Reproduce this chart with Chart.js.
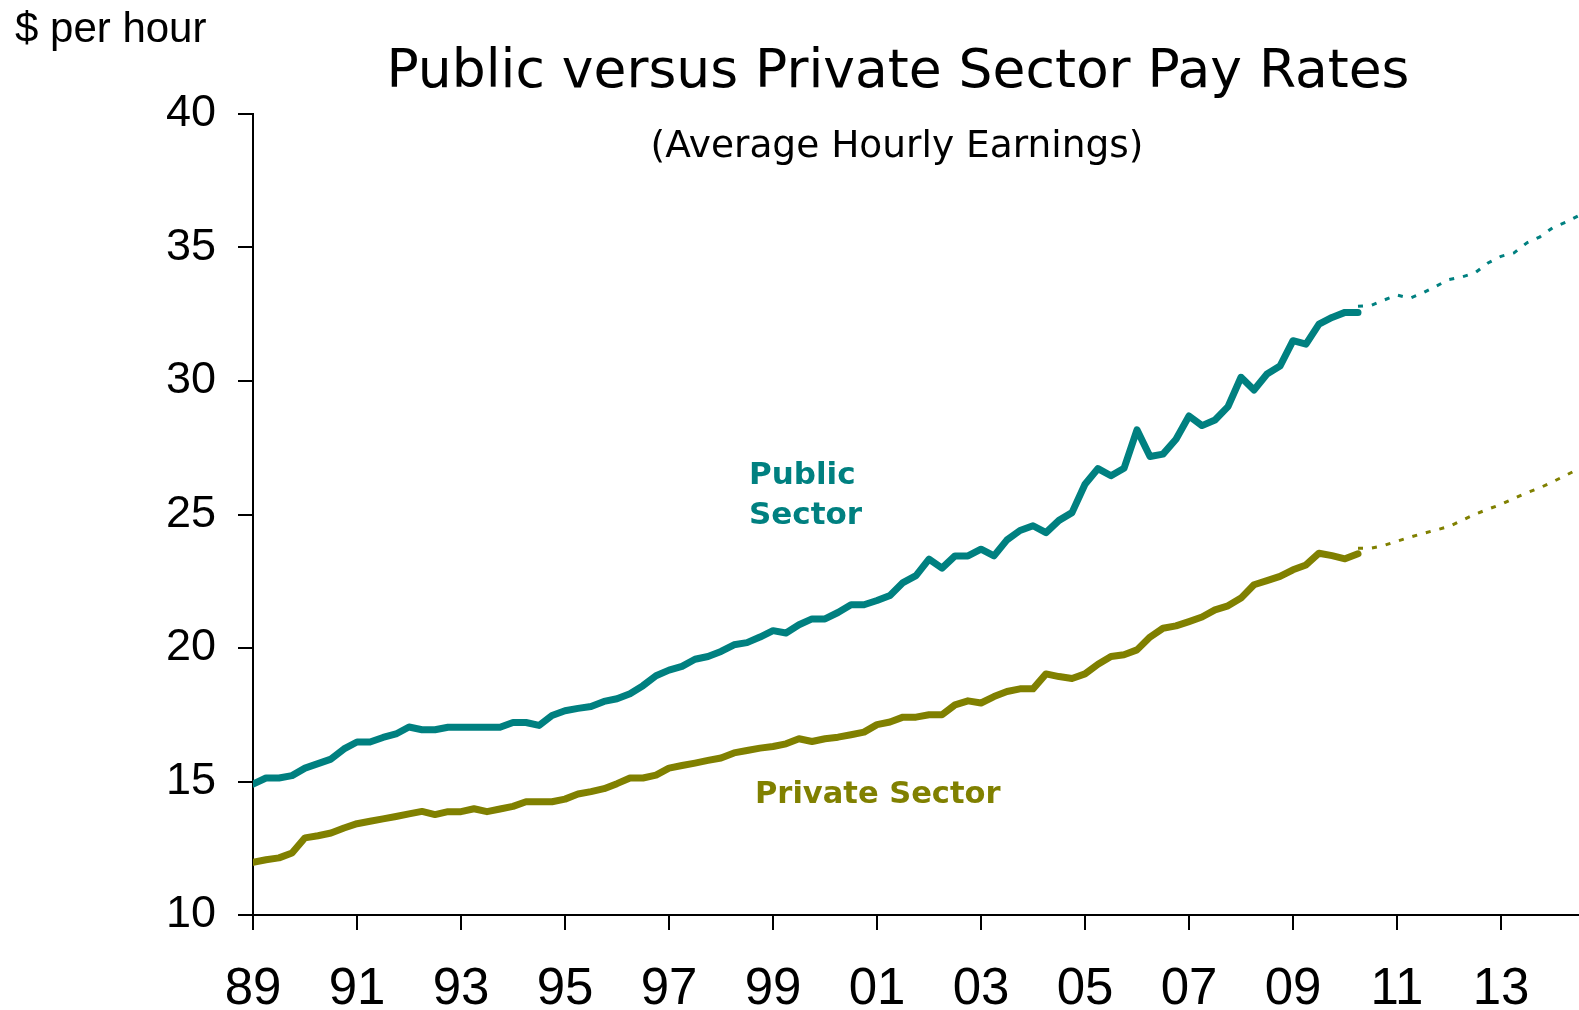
<!DOCTYPE html>
<html><head><meta charset="utf-8">
<script src="https://cdn.jsdelivr.net/npm/chart.js@4.4.1/dist/chart.umd.min.js"></script>
<style>html,body{margin:0;padding:0;background:#fff;overflow:hidden}#wrap{position:relative;width:1579px;height:1010px}</style>
</head><body><div id="wrap"><canvas id="c" width="1579" height="1010"></canvas></div>
<script>
// Quarterly observations, first value = 1989 Q1
const startYear = 1989;
const publicSector = [
  14.9, 15.13, 15.13, 15.22,
  15.5, 15.67, 15.84, 16.22,
  16.48, 16.48, 16.65, 16.78,
  17.04, 16.94, 16.94, 17.03,
  17.03, 17.03, 17.03, 17.03,
  17.21, 17.21, 17.1, 17.47,
  17.65, 17.74, 17.81, 18.0,
  18.1, 18.29, 18.59, 18.96,
  19.17, 19.31, 19.58, 19.68,
  19.87, 20.12, 20.2, 20.41,
  20.65, 20.56, 20.87, 21.09,
  21.09, 21.33, 21.62, 21.62,
  21.78, 21.97, 22.45, 22.71,
  23.33, 22.99, 23.45, 23.45,
  23.7, 23.45, 24.05, 24.4,
  24.58, 24.32, 24.78, 25.07,
  26.13, 26.72, 26.45, 26.73,
  28.17, 27.17, 27.26, 27.82,
  28.69, 28.33, 28.54, 29.04,
  30.14, 29.66, 30.26, 30.56,
  31.51, 31.38, 32.13, 32.38,
  32.57, 32.57
];
const privateSector = [
  11.97, 12.07, 12.14, 12.32,
  12.89, 12.97, 13.07, 13.26,
  13.42, 13.51, 13.6, 13.69,
  13.79, 13.88, 13.76, 13.87,
  13.87, 13.98, 13.87, 13.97,
  14.07, 14.24, 14.24, 14.24,
  14.34, 14.53, 14.62, 14.73,
  14.92, 15.13, 15.13, 15.24,
  15.5, 15.6, 15.69, 15.79,
  15.88, 16.07, 16.16, 16.25,
  16.31, 16.41, 16.6, 16.5,
  16.6, 16.66, 16.75, 16.85,
  17.13, 17.23, 17.41, 17.41,
  17.5, 17.5, 17.87, 18.02,
  17.94, 18.18, 18.37, 18.47,
  18.47, 19.03, 18.93, 18.86,
  19.03, 19.39, 19.68, 19.75,
  19.93, 20.41, 20.74, 20.83,
  20.99, 21.16, 21.43, 21.58,
  21.87, 22.37, 22.52, 22.68,
  22.93, 23.11, 23.55, 23.46,
  23.34, 23.53
];
// Projections, quarterly from 2010 Q2
const projectionStart = 2010.25;
const publicProjection = [32.8, 32.83, 33.03, 33.22, 33.1, 33.3, 33.55, 33.8, 33.9, 34.05, 34.42, 34.67, 34.8, 35.18, 35.4, 35.75, 35.95, 36.2];
const privateProjection = [23.74, 23.74, 23.84, 24.0, 24.15, 24.29, 24.42, 24.55, 24.78, 25.01, 25.2, 25.38, 25.6, 25.82, 26.0, 26.23, 26.47, 26.72];

const xTickValues = [1989, 1991, 1993, 1995, 1997, 1999, 2001, 2003, 2005, 2007, 2009, 2011, 2013];
const xTickLabels = ['89', '91', '93', '95', '97', '99', '01', '03', '05', '07', '09', '11', '13'];
const yTickValues = [10, 15, 20, 25, 30, 35, 40];

const titleText = 'Public versus Private Sector Pay Rates';
const subtitleText = '(Average Hourly Earnings)';
const unitText = '$ per hour';
const publicLabel = ['Public', 'Sector'];
const privateLabel = 'Private Sector';

const TEAL = '#008080';
const OLIVE = '#808000';

const toPoints = (arr, start) => arr.map((v, i) => ({ x: start + i / 4, y: v }));

const textPlugin = {
  id: 'texts',
  afterDraw(chart) {
    const ctx = chart.ctx;
    ctx.save();
    ctx.textBaseline = 'alphabetic';
    ctx.fillStyle = '#000';
    ctx.textAlign = 'center';
    ctx.font = '53.5px "DejaVu Sans"';
    ctx.fillText(titleText, 898, 87);
    ctx.font = '37.5px "DejaVu Sans"';
    ctx.fillText(subtitleText, 897, 157);
    ctx.textAlign = 'left';
    ctx.font = '42px "Liberation Sans", Arial';
    ctx.fillText(unitText, 15, 42);
    ctx.font = 'bold 31px "DejaVu Sans"';
    ctx.fillStyle = TEAL;
    ctx.fillText(publicLabel[0], 749, 484);
    ctx.fillText(publicLabel[1], 749, 524);
    ctx.font = 'bold 30.5px "DejaVu Sans"';
    ctx.fillStyle = OLIVE;
    ctx.fillText(privateLabel, 755, 803);
    ctx.restore();
  }
};

new Chart(document.getElementById('c'), {
  type: 'line',
  data: {
    datasets: [
      { label: 'Public Sector', data: toPoints(publicSector, startYear), borderColor: TEAL, borderWidth: 7, pointRadius: 0, tension: 0, borderJoinStyle: 'round', borderCapStyle: 'round' },
      { label: 'Private Sector', data: toPoints(privateSector, startYear), borderColor: OLIVE, borderWidth: 7, pointRadius: 0, tension: 0, borderJoinStyle: 'round', borderCapStyle: 'round' },
      { label: 'Public projection', data: toPoints(publicProjection, projectionStart), borderColor: TEAL, borderWidth: 3, borderDash: [5, 9], pointRadius: 0, tension: 0 },
      { label: 'Private projection', data: toPoints(privateProjection, projectionStart), borderColor: OLIVE, borderWidth: 3, borderDash: [5, 9], pointRadius: 0, tension: 0 }
    ]
  },
  options: {
    responsive: false,
    devicePixelRatio: 1,
    animation: false,
    layout: { padding: { top: 114, left: 0, right: 0, bottom: 0 } },
    plugins: { legend: { display: false }, tooltip: { enabled: false }, title: { display: false } },
    scales: {
      x: {
        type: 'linear',
        min: 1989,
        max: 2014.5,
        afterBuildTicks: s => { s.ticks = xTickValues.map(v => ({ value: v })); },
        afterFit: s => { s.height = 95; },
        ticks: {
          callback: v => xTickLabels[xTickValues.indexOf(v)],
          font: { family: '"Liberation Sans", Arial', size: 51 },
          color: '#000',
          padding: 29,
          maxRotation: 0,
          autoSkip: false
        },
        grid: { drawOnChartArea: false, drawTicks: true, tickLength: 15, color: '#000', lineWidth: 2 },
        border: { display: true, color: '#000', width: 2 }
      },
      y: {
        type: 'linear',
        min: 10,
        max: 40,
        afterBuildTicks: s => { s.ticks = yTickValues.map(v => ({ value: v })); },
        afterFit: s => { s.width = 253; },
        ticks: {
          font: { family: '"Liberation Sans", Arial', size: 45 },
          color: '#000',
          padding: 22
        },
        grid: { drawOnChartArea: false, drawTicks: true, tickLength: 15, color: '#000', lineWidth: 2 },
        border: { display: true, color: '#000', width: 2 }
      }
    }
  },
  plugins: [textPlugin]
});
</script>
</body></html>
